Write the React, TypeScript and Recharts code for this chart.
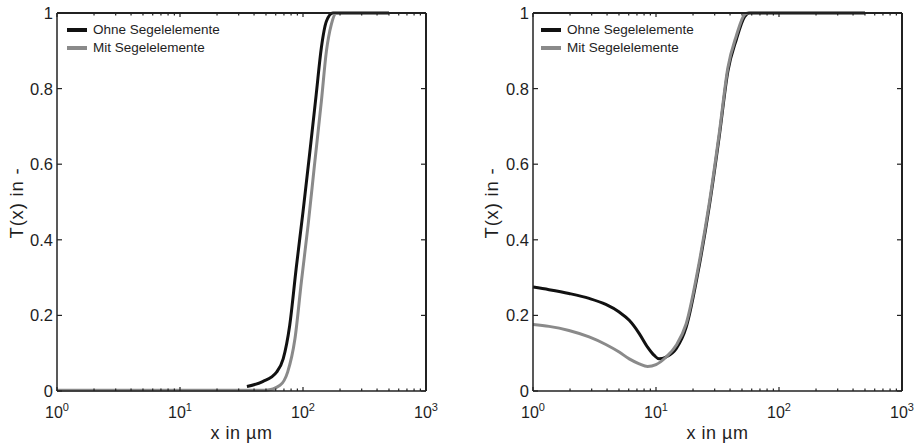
import React from 'react';
import { LineChart, Line, XAxis, YAxis, Legend, Label, ReferenceLine } from 'recharts';

// Ohne / Mit Segelelemente, left panel
const leftOhneX = [35, 47, 61, 69, 78, 88, 100, 113, 128, 141, 155, 175, 500];
const leftOhneT = [0.012, 0.025, 0.05, 0.085, 0.174, 0.324, 0.474, 0.625, 0.784, 0.908, 0.978, 1.0, 1.0];
const leftMitX = [1, 50, 65, 75, 86, 97, 110, 124, 141, 155, 170, 187, 500];
const leftMitT = [0.002, 0.002, 0.015, 0.05, 0.138, 0.289, 0.439, 0.598, 0.766, 0.899, 0.97, 1.0, 1.0];

// right panel
const rightOhneX = [1, 1.35, 1.96, 2.86, 3.91, 5.02, 6.06, 7.31, 8.54, 9.68, 10.6, 12.1, 14.6, 17.6, 22.5, 27.2, 32.8, 38.4, 45, 52.5, 57.6, 500];
const rightOhneT = [0.275, 0.268, 0.258, 0.245, 0.229, 0.209, 0.187, 0.152, 0.116, 0.094, 0.085, 0.09, 0.112, 0.169, 0.333, 0.492, 0.678, 0.846, 0.93, 0.99, 1.0, 1.0];
const rightMitX = [1, 1.35, 1.96, 2.86, 3.91, 5.02, 6.06, 7.31, 8.54, 10, 12.1, 14.6, 17.6, 22.5, 27.2, 32.8, 38.4, 45, 52.5, 56, 500];
const rightMitT = [0.176, 0.171, 0.16, 0.143, 0.123, 0.103, 0.085, 0.072, 0.065, 0.07, 0.09, 0.121, 0.178, 0.342, 0.5, 0.686, 0.855, 0.94, 0.996, 1.0, 1.0];

const majorX = [1, 10, 100, 1000];
const minorX = [2, 3, 4, 5, 6, 7, 8, 9, 20, 30, 40, 50, 60, 70, 80, 90, 200, 300, 400, 500, 600, 700, 800, 900];
const yTicks = [0, 0.2, 0.4, 0.6, 0.8, 1];
const yTickLabels = ['0', '0.2', '0.4', '0.6', '0.8', '1'];

const seriesNames = ['Ohne Segelelemente', 'Mit Segelelemente'];
const seriesColors = ['#111111', '#8a8a8a'];

const FONT = '"Liberation Sans", Arial, sans-serif';
const TEXT = '#1e1e1e';
const AXIS = '#222222';

const CHART_W = 459;
const CHART_H = 448;
const PLOT_TOP = 13;
const X_AXIS_H = 57;
const xTicks = [...majorX, ...minorX].sort((a, b) => a - b);
const toPoints = (xs: number[], ts: number[]) => xs.map((x, i) => ({ x, t: ts[i] }));

interface Frame {
  left: number;
  right: number;
  top: number;
  bottom: number;
}

// bottom tick: inward tick mark, mirrored one on the top edge, top edge segment, and 10^n label
const renderBottomTick = (props: any, fr: Frame) => {
  const { x, y, payload } = props;
  const v = payload.value;
  const major = majorX.includes(v);
  const len = major ? 4 : 2.5;
  return (
    <g key={`bt-${v}`}>
      <line x1={fr.left} x2={fr.right} y1={fr.top} y2={fr.top} stroke={AXIS} strokeWidth={1.5} />
      <line x1={x} x2={x} y1={y} y2={y - len} stroke={AXIS} strokeWidth={1.2} />
      <line x1={x} x2={x} y1={fr.top} y2={fr.top + len} stroke={AXIS} strokeWidth={1.2} />
      {major && (
        <text x={x} y={y + 27} textAnchor="middle" fontSize={16} fill={TEXT} fontFamily={FONT}>
          10<tspan dy={-7} fontSize={11}>{Math.round(Math.log10(v))}</tspan>
        </text>
      )}
    </g>
  );
};

const renderLeftTick = (props: any, fr: Frame) => {
  const { x, y, payload } = props;
  const idx = yTicks.indexOf(payload.value);
  return (
    <g key={`lt-${idx}`}>
      <line x1={fr.right} x2={fr.right} y1={fr.top} y2={fr.bottom} stroke={AXIS} strokeWidth={1.5} />
      <line x1={x} x2={x + 5} y1={y} y2={y} stroke={AXIS} strokeWidth={1.2} />
      <line x1={fr.right} x2={fr.right - 5} y1={y} y2={y} stroke={AXIS} strokeWidth={1.2} />
      <text x={x - 4} y={y + 6} textAnchor="end" fontSize={16.5} fill={TEXT} fontFamily={FONT}>
        {yTickLabels[idx]}
      </text>
    </g>
  );
};

const LegendBox = (props: any) => {
  const items = [...(props.payload || [])]
    .filter((p: any) => seriesNames.includes(p.value))
    .sort((a: any, b: any) => seriesNames.indexOf(a.value) - seriesNames.indexOf(b.value));
  return (
    <div style={{ fontFamily: FONT, fontSize: 13.5, color: TEXT, lineHeight: '18px' }}>
      {items.map((p: any) => (
        <div key={p.value} style={{ display: 'flex', alignItems: 'center', whiteSpace: 'nowrap' }}>
          <span style={{ display: 'inline-block', width: 20, height: 3.5, background: p.color, marginRight: 6 }} />
          {p.value}
        </div>
      ))}
    </div>
  );
};

interface PanelProps {
  ohne: { x: number; t: number }[];
  mit: { x: number; t: number }[];
  leftW: number;
  rightW: number;
  titleX: number;
  legendLeft: number;
}

const Panel: React.FC<PanelProps> = ({ ohne, mit, leftW, rightW, titleX, legendLeft }) => {
  const fr: Frame = { left: leftW, right: CHART_W - rightW, top: PLOT_TOP, bottom: CHART_H - X_AXIS_H };
  const plotCx = (fr.left + fr.right) / 2;
  return (
    <LineChart width={CHART_W} height={CHART_H} margin={{ top: PLOT_TOP, right: rightW, bottom: 0, left: 0 }}>
      <XAxis
        xAxisId="b"
        type="number"
        dataKey="x"
        scale="log"
        domain={[1, 1000]}
        ticks={xTicks}
        interval={0}
        height={X_AXIS_H}
        tickSize={0}
        tickMargin={0}
        tickLine={false}
        axisLine={{ stroke: AXIS, strokeWidth: 1.5 }}
        tick={(p: any) => renderBottomTick(p, fr)}
      >
        <Label
          content={() => (
            <text x={plotCx} y={439} textAnchor="middle" fontSize={18} letterSpacing={0.5} fill={TEXT} fontFamily={FONT}>
              x in µm
            </text>
          )}
        />
      </XAxis>
      <YAxis
        yAxisId="l"
        type="number"
        domain={[0, 1]}
        ticks={yTicks}
        interval={0}
        width={leftW}
        tickSize={0}
        tickMargin={0}
        tickLine={false}
        axisLine={{ stroke: AXIS, strokeWidth: 1.5 }}
        tick={(p: any) => renderLeftTick(p, fr)}
      >
        <Label
          content={() => (
            <text
              x={titleX}
              y={203}
              textAnchor="middle"
              dominantBaseline="central"
              transform={`rotate(-90 ${titleX} 203)`}
              fontSize={18.5}
              letterSpacing={0.8}
              fill={TEXT}
              fontFamily={FONT}
            >
              T(x) in -
            </text>
          )}
        />
      </YAxis>
      {/* top and right edges of the box */}
      <ReferenceLine
        xAxisId="b"
        yAxisId="l"
        segment={[{ x: 1, y: 1 }, { x: 1000, y: 1 }]}
        stroke={AXIS}
        strokeWidth={1.5}
        ifOverflow="visible"
      />
      <ReferenceLine
        xAxisId="b"
        yAxisId="l"
        segment={[{ x: 1000, y: 0 }, { x: 1000, y: 1 }]}
        stroke={AXIS}
        strokeWidth={1.5}
        ifOverflow="visible"
      />
      <Legend
        layout="vertical"
        align="center"
        verticalAlign="middle"
        wrapperStyle={{ left: legendLeft, top: 21, width: 'auto', height: 'auto' }}
        content={<LegendBox />}
      />
      <Line
        xAxisId="b"
        yAxisId="l"
        data={ohne}
        dataKey="t"
        name={seriesNames[0]}
        type="monotone"
        stroke={seriesColors[0]}
        strokeWidth={3}
        dot={false}
        activeDot={false}
        isAnimationActive={false}
      />
      <Line
        xAxisId="b"
        yAxisId="l"
        data={mit}
        dataKey="t"
        name={seriesNames[1]}
        type="monotone"
        stroke={seriesColors[1]}
        strokeWidth={3}
        dot={false}
        activeDot={false}
        isAnimationActive={false}
      />
    </LineChart>
  );
};

export default function App() {
  return (
    <div style={{ position: 'absolute', left: 0, top: 0, width: 918, height: 448, background: '#fff', display: 'flex' }}>
      <Panel
        ohne={toPoints(leftOhneX, leftOhneT)}
        mit={toPoints(leftMitX, leftMitT)}
        leftW={57}
        rightW={33}
        titleX={16}
        legendLeft={67}
      />
      <Panel
        ohne={toPoints(rightOhneX, rightOhneT)}
        mit={toPoints(rightMitX, rightMitT)}
        leftW={74}
        rightW={16}
        titleX={32}
        legendLeft={82}
      />
    </div>
  );
}
